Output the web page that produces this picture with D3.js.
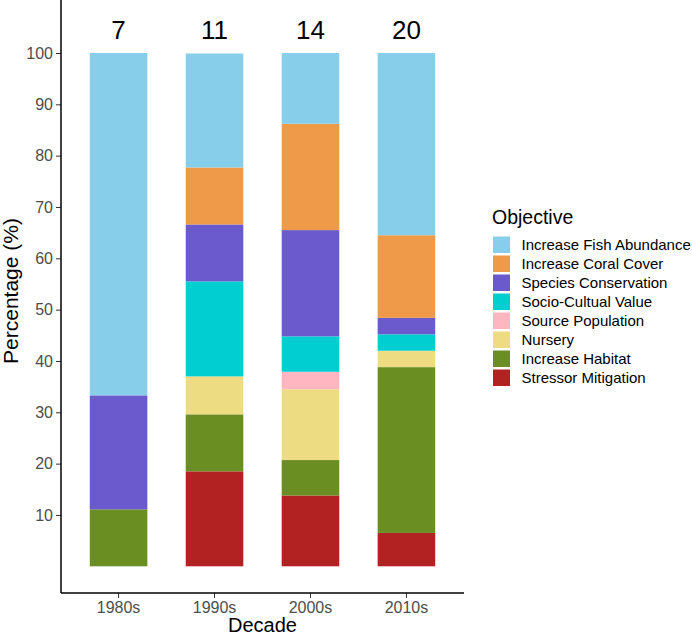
<!DOCTYPE html>
<html><head><meta charset="utf-8">
<script src="https://cdn.jsdelivr.net/npm/d3@7"></script>
<style>body{margin:0;background:#fff;font-family:Arial,"Liberation Sans",sans-serif}</style>
</head><body>
<svg id="chart" width="692" height="638"></svg>
<script>
const decades = ["1980s","1990s","2000s","2010s"];
const counts = [7, 11, 14, 20];
const objectives = ["Increase Fish Abundance","Increase Coral Cover","Species Conservation","Socio-Cultual Value","Source Population","Nursery","Increase Habitat","Stressor Mitigation"];
const colors = ["#87CEEB","#EE9A49","#6A5ACD","#00CED1","#FFB6C1","#EEDC82","#6B8E23","#B22222"];
// percentages per decade, stacking order bottom->top: Stressor, Habitat, Nursery, Source, Socio, Species, Coral, Fish
const fishAbundance   = [66.7, 22.2, 13.8, 35.5];
const coralCover      = [0, 11.1, 20.7, 16.1];
const speciesCons     = [22.2, 11.1, 20.7, 3.2];
const socioCultural   = [0, 18.5, 6.9, 3.2];
const sourcePop       = [0, 0, 3.4, 0];
const nursery         = [0, 7.4, 13.8, 3.2];
const increaseHabitat = [11.1, 11.1, 6.9, 32.3];
const stressorMit     = [0, 18.5, 13.8, 6.5];
const yTicks = [10,20,30,40,50,60,70,80,90,100];

const seriesVals = [fishAbundance, coralCover, speciesCons, socioCultural, sourcePop, nursery, increaseHabitat, stressorMit];
const rows = decades.map((d,i)=>{const r={decade:d}; objectives.forEach((o,j)=>r[o]=seriesVals[j][i]); return r;});
const stackKeys = objectives.slice().reverse();
const stacked = d3.stack().keys(stackKeys)(rows);
const color = d3.scaleOrdinal().domain(objectives).range(colors);

const svg = d3.select("#chart");
const left = 61, right = 464, bottom = 593;
const x = d3.scaleBand().domain(decades).range([left, right]).paddingInner(0.4).paddingOuter(0.3);
const y = d3.scaleLinear().domain([0,100]).range([566.3, 53]);

svg.append("g").selectAll("g").data(stacked).join("g")
  .attr("fill", d=>color(d.key))
  .selectAll("rect").data(d=>d).join("rect")
  .attr("x", d=>x(d.data.decade)).attr("width", x.bandwidth())
  .attr("y", d=>y(d[1])).attr("height", d=>Math.max(0, y(d[0])-y(d[1])));

// axes
const yAxis = svg.append("g").attr("transform",`translate(${left},0)`)
  .call(d3.axisLeft(y).tickValues(yTicks).tickSize(5).tickPadding(3));
yAxis.select(".domain").remove();
svg.append("line").attr("x1",left).attr("x2",left).attr("y1",0).attr("y2",bottom).attr("stroke","#000").attr("stroke-width",1.5);
const xAxis = svg.append("g").attr("transform",`translate(0,${bottom})`)
  .call(d3.axisBottom(x).tickSize(5).tickPadding(4));
xAxis.select(".domain").remove();
svg.append("line").attr("x1",left).attr("x2",right).attr("y1",bottom).attr("y2",bottom).attr("stroke","#000").attr("stroke-width",1.5);
svg.selectAll(".tick text").attr("font-size",16).attr("fill","#4d4d4d").attr("font-family","Arial, 'Liberation Sans', sans-serif");
svg.selectAll(".tick line").attr("stroke","#333");

// count labels
svg.append("g").selectAll("text").data(decades).join("text")
  .attr("x", d=>x(d)+x.bandwidth()/2).attr("y", 38.5)
  .attr("text-anchor","middle").attr("font-size",26).attr("fill","#000")
  .text((d,i)=>counts[i]);

// axis titles
svg.append("text").attr("x",(left+right)/2).attr("y",632).attr("text-anchor","middle").attr("font-size",20).text("Decade");
svg.append("text").attr("transform",`translate(18,291) rotate(-90)`).attr("text-anchor","middle").attr("font-size",21).text("Percentage (%)");

// legend
const lg = svg.append("g");
lg.append("text").attr("x",492).attr("y",224).attr("font-size",19.5).text("Objective");
const items = lg.selectAll("g.item").data(objectives).join("g").attr("class","item")
  .attr("transform",(d,i)=>`translate(493,${236.5+i*19})`);
items.append("rect").attr("width",17).attr("height",16.5).attr("fill",d=>color(d));
items.append("text").attr("x",28.5).attr("y",8.5).attr("dy","0.35em").attr("font-size",15).text(d=>d);
</script>
</body></html>
